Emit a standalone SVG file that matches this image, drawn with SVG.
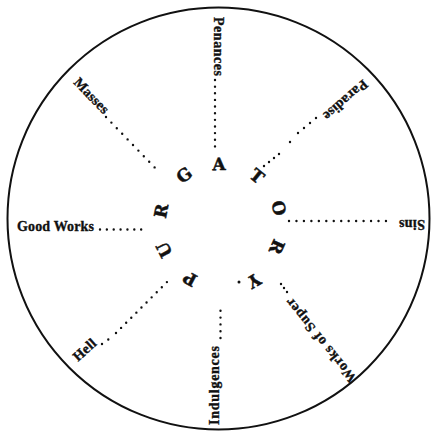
<svg xmlns="http://www.w3.org/2000/svg" width="432" height="432" viewBox="0 0 432 432">
<style>
.lbl{font-family:"Liberation Serif","Times New Roman",serif;font-weight:bold;font-size:14px;fill:#111;stroke:#111;stroke-width:0.35}
.ltr{font-family:"DejaVu Serif","Liberation Serif",serif;font-weight:bold;font-size:17px;fill:#111;stroke:#111;stroke-width:0.5;text-anchor:middle}
.dots{stroke:#111;stroke-width:2.4;stroke-linecap:round;fill:none}
</style>
<rect width="432" height="432" fill="#fff"/>
<circle cx="218.5" cy="218.5" r="211" fill="none" stroke="#111" stroke-width="2"/>
<g id="connectors" class="dots">
<line x1="106" y1="117" x2="160" y2="173" stroke-dasharray="0 7.78"/>
<line x1="100" y1="229.5" x2="148" y2="229.5" stroke-dasharray="0 6.86"/>
<line x1="215" y1="80" x2="215" y2="153" stroke-dasharray="0 6.64"/>
<line x1="316" y1="118" x2="298" y2="133" stroke-dasharray="0 7.81"/>
<line x1="290" y1="142" x2="290" y2="142" stroke-dasharray="0 7"/>
<line x1="279" y1="154" x2="264" y2="166" stroke-dasharray="0 6.4"/>
<line x1="289" y1="221" x2="386" y2="221" stroke-dasharray="0 7.46"/>
<line x1="287" y1="292" x2="278" y2="280" stroke-dasharray="0 5"/>
<line x1="220.5" y1="338" x2="220.5" y2="304" stroke-dasharray="0 6.8"/>
<line x1="102" y1="344" x2="108.3" y2="339.5" stroke-dasharray="0 7.74"/>
<line x1="116" y1="333" x2="172" y2="277" stroke-dasharray="0 7.2"/>
<circle cx="239" cy="282" r="1.5" fill="#111" stroke="none"/>
</g>
<g id="masses"><text class="lbl" transform="translate(73,83) rotate(46)" textLength="44" lengthAdjust="spacing">Masses</text></g>
<g id="good-works"><text class="lbl" x="17" y="231" textLength="77" lengthAdjust="spacing">Good Works</text></g>
<g id="penances"><text class="lbl" transform="translate(213.5,17) rotate(90)" textLength="59" lengthAdjust="spacing">Penances</text></g>
<g id="paradise"><text class="lbl" transform="translate(363,79) rotate(139)" textLength="54" lengthAdjust="spacing">Paradise</text></g>
<g id="sins"><text class="lbl" transform="translate(425,220) rotate(180)" textLength="26" lengthAdjust="spacing">Sins</text></g>
<g id="works-of-super"><text class="lbl" transform="translate(357,378) rotate(-129)" textLength="104" lengthAdjust="spacing">Works of Super</text></g>
<g id="indulgences"><text class="lbl" transform="translate(219,425) rotate(-90)" textLength="79" lengthAdjust="spacing">Indulgences</text></g>
<g id="hell"><text class="lbl" transform="translate(78,362) rotate(-42)" textLength="26" lengthAdjust="spacing">Hell</text></g>
<g id="purgatory">
<text class="ltr" transform="translate(190,279) rotate(-152)" dy="6.2">P</text>
<text class="ltr" transform="translate(164,250) rotate(-117)" dy="6.2">U</text>
<text class="ltr" transform="translate(161,211) rotate(-79)" dy="6.2">R</text>
<text class="ltr" transform="translate(184,175) rotate(-37)" dy="6.2">G</text>
<text class="ltr" transform="translate(219,164) rotate(-1)" dy="6.2">A</text>
<text class="ltr" transform="translate(257,176) rotate(39)" dy="6.2">T</text>
<text class="ltr" transform="translate(279,208) rotate(77)" dy="6.2">O</text>
<text class="ltr" transform="translate(277,247) rotate(114)" dy="6.2">R</text>
<text class="ltr" transform="translate(254,281) rotate(150)" dy="6.2">Y</text>
</g>
</svg>
